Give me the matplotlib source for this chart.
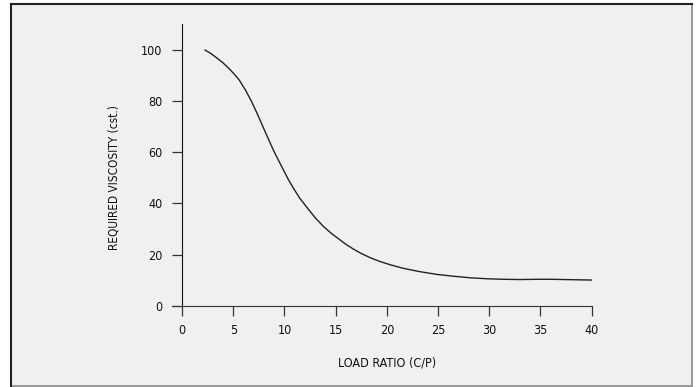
import matplotlib
matplotlib.use("Agg")
import matplotlib.pyplot as plt
from matplotlib.patches import Rectangle

# load ratio (C/P) vs required viscosity (cst.)
load_ratio = [2.25, 2.8, 3.3, 4.0, 4.6, 5.1, 5.6, 6.2, 6.8, 7.4, 7.9, 8.4,
              8.9, 9.4, 9.9, 10.4, 10.9, 11.5, 12.2, 13.0, 13.8, 14.6,
              15.4, 16.0, 16.7, 17.5, 18.4, 19.3, 20.4, 21.6, 23.2, 24.9,
              26.5, 28.1, 29.8, 31.4, 33.0, 34.7, 36.0, 38.0, 40.0]
viscosity = [100.0, 98.7, 97.2, 95.0, 92.7, 90.6, 88.2, 84.3, 79.8, 74.6,
             70.0, 65.5, 61.0, 57.0, 53.1, 49.2, 45.8, 42.0, 38.4, 34.4,
             31.0, 28.2, 25.8, 24.0, 22.2, 20.4, 18.7, 17.3, 15.9, 14.6,
             13.3, 12.2, 11.5, 10.9, 10.5, 10.3, 10.2, 10.3, 10.3, 10.15,
             10.0]

x_ticks = [0, 5, 10, 15, 20, 25, 30, 35, 40]
y_ticks = [0, 20, 40, 60, 80, 100]

plt.rcParams["font.family"] = ["DejaVu Sans"]
plt.rcParams["font.stretch"] = "condensed"

fig = plt.figure(figsize=(6.98, 3.87), dpi=100)
fig.patch.set_facecolor("white")

# panel background with a sunken-looking border
fig.add_artist(Rectangle((11 / 698, 1 / 387), 681 / 698, 382 / 387,
                         transform=fig.transFigure, facecolor="#f0f0f0",
                         edgecolor="#888888", linewidth=1.2, zorder=-2))
fig.add_artist(plt.Line2D([11 / 698, 11 / 698], [1 / 387, 383 / 387],
                          transform=fig.transFigure, color="#222222", lw=1.5,
                          zorder=-1))
fig.add_artist(plt.Line2D([11 / 698, 692 / 698], [383 / 387, 383 / 387],
                          transform=fig.transFigure, color="#222222", lw=1.5,
                          zorder=-1))

ax = fig.add_axes([0.2461, 0.2103, 0.6016, 0.7264])
ax.set_zorder(1)
ax.set_facecolor("none")
ax.plot(load_ratio, viscosity, color="#222222", linewidth=1.0)

ax.set_xlim(-1, 40)
ax.set_ylim(0, 110)
ax.set_xticks(x_ticks)
ax.set_yticks(y_ticks)

ax.spines["left"].set_position(("data", 0))
ax.spines["left"].set_color("#111111")
ax.spines["bottom"].set_color("#333333")
for s in ("top", "right"):
    ax.spines[s].set_visible(False)

ax.tick_params(axis="both", direction="out", length=7.2, width=0.9,
               color="#333333", labelsize=9, labelcolor="#111111")
ax.tick_params(axis="x", pad=6)
ax.tick_params(axis="y", pad=7)

ax.set_xlabel("LOAD RATIO (C/P)", fontsize=9, color="#111111")
ax.xaxis.set_label_coords(21 / 41, -0.18)
ax.set_ylabel("REQUIRED VISCOSITY (cst.)", fontsize=8.5, color="#111111")
ax.yaxis.set_label_coords(-0.123, 50 / 110)

plt.savefig("out.png", dpi=100)
